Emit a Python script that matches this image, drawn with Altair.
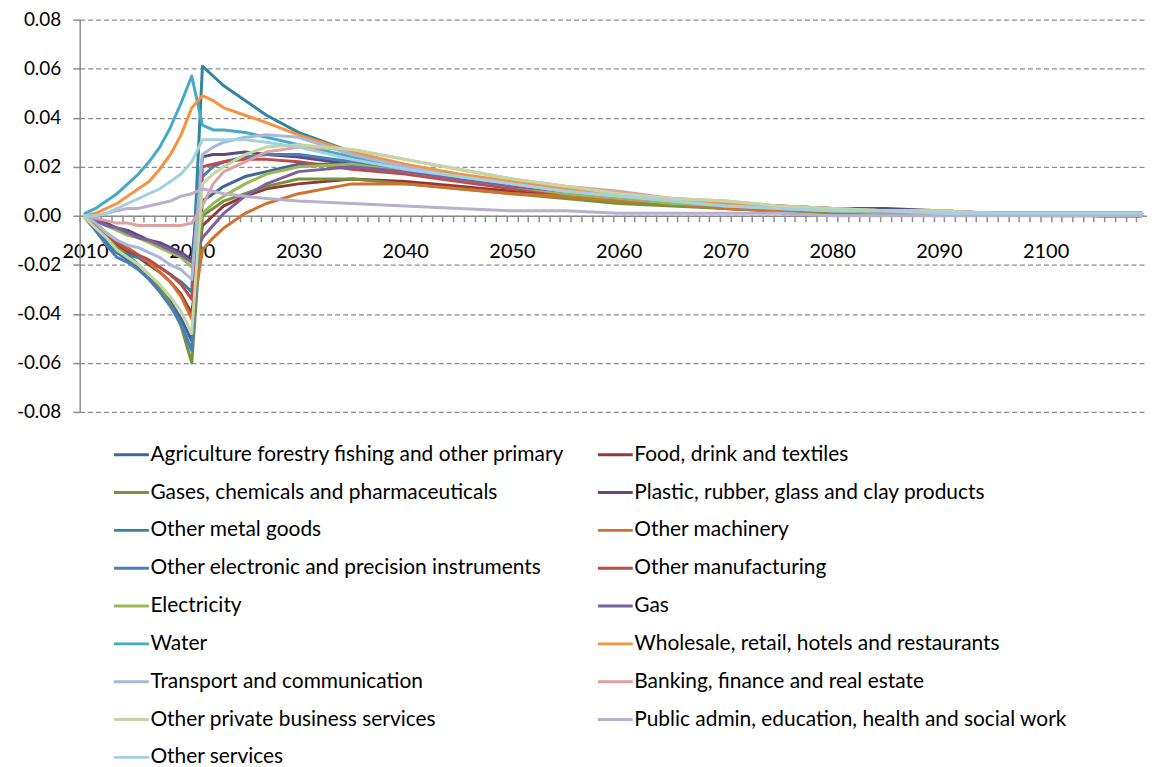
import altair as alt
import pandas as pd

YEARS = [2010, 2011, 2012, 2013, 2014, 2015, 2016, 2017, 2018, 2019, 2020,
         2021, 2022, 2023, 2025, 2027, 2030, 2035, 2040, 2045, 2050, 2055,
         2060, 2065, 2070, 2075, 2080, 2085, 2090, 2095, 2100, 2105, 2109]

NAMES = [
    "Agriculture forestry fishing and other primary",
    "Food, drink and textiles",
    "Gases, chemicals and pharmaceuticals",
    "Plastic, rubber, glass and clay products",
    "Other metal goods",
    "Other machinery",
    "Other electronic and precision instruments",
    "Other manufacturing",
    "Electricity",
    "Gas",
    "Water",
    "Wholesale, retail, hotels and restaurants",
    "Transport and communication",
    "Banking, finance and real estate",
    "Other private business services",
    "Public admin, education, health and social work",
    "Other services",
]

COLORS = ["#3C679A", "#953735", "#77933C", "#604A7B", "#31859C", "#D0722E",
          "#4A7EBB", "#BE4B48", "#98B954", "#7D60A0", "#46AAC5", "#F69240",
          "#A7B9DA", "#DAA2A1", "#C3D6A4", "#B9AFCF", "#A5D0DD"]

agriculture = [0.000, -0.005, -0.010, -0.015, -0.018, -0.021, -0.025, -0.030, -0.035, -0.042, -0.051,
               0.006, 0.009, 0.012, 0.016, 0.018, 0.021, 0.021, 0.018, 0.015, 0.012, 0.009,
               0.007, 0.005, 0.004, 0.003, 0.002, 0.002, 0.001, 0.001, 0.001, 0.001, 0.001]
food = [0.000, -0.004, -0.008, -0.012, -0.015, -0.017, -0.020, -0.023, -0.027, -0.032, -0.040,
        -0.004, 0.000, 0.004, 0.008, 0.011, 0.013, 0.015, 0.014, 0.012, 0.010, 0.008,
        0.006, 0.005, 0.003, 0.002, 0.002, 0.001, 0.001, 0.001, 0.001, 0.000, 0.000]
gases = [0.000, -0.004, -0.008, -0.013, -0.016, -0.020, -0.024, -0.029, -0.036, -0.045, -0.060,
         0.000, 0.003, 0.006, 0.009, 0.012, 0.015, 0.015, 0.013, 0.011, 0.009, 0.007,
         0.005, 0.004, 0.003, 0.002, 0.001, 0.001, 0.001, 0.001, 0.000, 0.000, 0.000]
plastic = [0.000, -0.002, -0.003, -0.005, -0.006, -0.008, -0.010, -0.011, -0.013, -0.015, -0.018,
           0.024, 0.025, 0.025, 0.026, 0.025, 0.024, 0.021, 0.019, 0.016, 0.013, 0.011,
           0.008, 0.006, 0.005, 0.004, 0.003, 0.003, 0.002, 0.001, 0.001, 0.001, 0.001]
metal = [0.000, -0.006, -0.011, -0.015, -0.016, -0.017, -0.019, -0.021, -0.024, -0.027, -0.031,
         0.061, 0.057, 0.053, 0.047, 0.041, 0.034, 0.026, 0.020, 0.016, 0.013, 0.010,
         0.008, 0.006, 0.004, 0.003, 0.002, 0.002, 0.001, 0.001, 0.001, 0.001, 0.001]
machinery = [0.000, -0.003, -0.007, -0.010, -0.013, -0.016, -0.019, -0.023, -0.027, -0.033, -0.042,
             -0.014, -0.009, -0.005, 0.001, 0.005, 0.009, 0.013, 0.013, 0.011, 0.009, 0.008,
             0.006, 0.005, 0.003, 0.002, 0.002, 0.001, 0.001, 0.001, 0.001, 0.000, 0.000]
electronic = [-0.001, -0.006, -0.012, -0.017, -0.019, -0.022, -0.026, -0.031, -0.037, -0.044, -0.055,
              0.016, 0.020, 0.022, 0.024, 0.025, 0.025, 0.022, 0.019, 0.016, 0.013, 0.010,
              0.008, 0.006, 0.004, 0.003, 0.002, 0.002, 0.001, 0.001, 0.001, 0.001, 0.001]
manufacturing = [0.000, -0.004, -0.008, -0.011, -0.014, -0.016, -0.018, -0.021, -0.024, -0.028, -0.034,
                 0.020, 0.021, 0.022, 0.023, 0.023, 0.022, 0.019, 0.017, 0.014, 0.011, 0.009,
                 0.007, 0.005, 0.004, 0.003, 0.002, 0.001, 0.001, 0.001, 0.001, 0.000, 0.000]
electricity = [0.000, -0.002, -0.004, -0.006, -0.008, -0.009, -0.011, -0.013, -0.015, -0.017, -0.021,
               0.001, 0.005, 0.008, 0.013, 0.017, 0.020, 0.021, 0.018, 0.015, 0.012, 0.009,
               0.007, 0.005, 0.004, 0.003, 0.002, 0.001, 0.001, 0.001, 0.001, 0.001, 0.001]
gas = [0.000, -0.002, -0.004, -0.005, -0.007, -0.009, -0.010, -0.012, -0.014, -0.016, -0.019,
       -0.009, -0.004, 0.001, 0.008, 0.013, 0.018, 0.020, 0.018, 0.015, 0.012, 0.010,
       0.008, 0.006, 0.005, 0.004, 0.003, 0.002, 0.002, 0.001, 0.001, 0.001, 0.001]
water = [0.001, 0.003, 0.006, 0.009, 0.013, 0.017, 0.022, 0.028, 0.036, 0.046, 0.057,
         0.037, 0.035, 0.035, 0.034, 0.032, 0.029, 0.024, 0.020, 0.016, 0.013, 0.010,
         0.008, 0.006, 0.004, 0.003, 0.002, 0.002, 0.001, 0.001, 0.001, 0.001, 0.001]
wholesale = [0.000, 0.001, 0.003, 0.005, 0.008, 0.011, 0.014, 0.019, 0.025, 0.033, 0.044,
             0.049, 0.047, 0.044, 0.041, 0.038, 0.033, 0.026, 0.021, 0.017, 0.014, 0.011,
             0.009, 0.007, 0.005, 0.004, 0.003, 0.002, 0.002, 0.001, 0.001, 0.001, 0.001]
transport = [0.000, -0.003, -0.007, -0.010, -0.012, -0.013, -0.015, -0.017, -0.020, -0.022, -0.026,
             0.025, 0.028, 0.030, 0.032, 0.033, 0.032, 0.025, 0.020, 0.016, 0.013, 0.010,
             0.008, 0.006, 0.004, 0.003, 0.002, 0.002, 0.001, 0.001, 0.001, 0.001, 0.001]
banking = [0.000, -0.001, -0.002, -0.003, -0.003, -0.004, -0.004, -0.004, -0.004, -0.004, -0.003,
           0.004, 0.013, 0.018, 0.022, 0.026, 0.028, 0.027, 0.023, 0.019, 0.015, 0.012,
           0.010, 0.007, 0.006, 0.004, 0.003, 0.002, 0.002, 0.001, 0.001, 0.001, 0.001]
private_business = [-0.001, -0.005, -0.009, -0.014, -0.017, -0.020, -0.024, -0.028, -0.033, -0.039, -0.048,
                    0.013, 0.017, 0.020, 0.025, 0.028, 0.029, 0.027, 0.023, 0.019, 0.015, 0.012,
                    0.009, 0.007, 0.006, 0.004, 0.003, 0.002, 0.002, 0.001, 0.001, 0.001, 0.001]
public_admin = [0.000, 0.000, 0.001, 0.002, 0.003, 0.003, 0.004, 0.005, 0.006, 0.008, 0.009,
                0.011, 0.010, 0.009, 0.008, 0.007, 0.006, 0.005, 0.004, 0.003, 0.002, 0.002,
                0.001, 0.001, 0.001, 0.001, 0.000, 0.000, 0.000, 0.000, 0.000, 0.000, 0.000]
other_services = [0.000, 0.000, 0.001, 0.003, 0.005, 0.007, 0.009, 0.011, 0.014, 0.017, 0.022,
                  0.031, 0.031, 0.031, 0.031, 0.030, 0.028, 0.023, 0.019, 0.016, 0.013, 0.010,
                  0.008, 0.006, 0.004, 0.003, 0.002, 0.002, 0.001, 0.001, 0.001, 0.001, 0.001]

SERIES = [agriculture, food, gases, plastic, metal, machinery, electronic, manufacturing,
          electricity, gas, water, wholesale, transport, banking, private_business,
          public_admin, other_services]

rows = []
for idx, (name, vals) in enumerate(zip(NAMES, SERIES)):
    for yr, v in zip(YEARS, vals):
        rows.append({"series": name, "idx": idx, "year": yr, "value": v})
df = pd.DataFrame(rows)

GRAY = "#8c8c8c"
FONT = "Lato"
PX_PER_YEAR = 1072 / 100.0

minus_fix = "replace(format(datum.value, '.2f'), '\u2212', '-')"

chart = alt.Chart(df).mark_line(strokeWidth=3, strokeJoin="round", strokeCap="round").encode(
    x=alt.X("year:Q",
            scale=alt.Scale(domain=[2009.5, 2109.5], nice=False, zero=False),
            axis=alt.Axis(values=list(range(2010, 2110)),
                          tickOffset=-PX_PER_YEAR / 2, labelOffset=PX_PER_YEAR / 2,
                          labelExpr="datum.value % 10 == 0 ? toString(datum.value) : ''",
                          labelOverlap=False, labelFlush=False, labelBound=False,
                          offset=-197, grid=False, tickSize=6, tickWidth=1.5,
                          domainColor=GRAY, tickColor=GRAY, domainWidth=1.5,
                          labelFont=FONT, labelFontSize=20, labelColor="black",
                          labelPadding=20, labelBaseline="top", title=None)),
    y=alt.Y("value:Q",
            scale=alt.Scale(domain=[-0.08, 0.08], nice=False, zero=False),
            axis=alt.Axis(values=[-0.08, -0.06, -0.04, -0.02, 0.0, 0.02, 0.04, 0.06, 0.08],
                          labelExpr=minus_fix, grid=True, gridDash=[5, 3],
                          gridColor=GRAY, gridWidth=1.2, tickSize=7, tickWidth=1.5,
                          tickColor=GRAY, domainColor=GRAY, domainWidth=1.5,
                          labelFont=FONT, labelFontSize=19, labelColor="black",
                          labelPadding=12, title=None)),
    color=alt.Color("series:N",
                    scale=alt.Scale(domain=NAMES, range=COLORS),
                    sort=NAMES,
                    legend=alt.Legend(orient="none", legendX=33, legendY=418,
                                      direction="horizontal",
                                      columns=2, symbolType="stroke",
                                      symbolStrokeWidth=3, symbolSize=1225,
                                      labelFont=FONT, labelFontSize=21,
                                      labelColor="black", labelLimit=700,
                                      labelOffset=0, rowPadding=9,
                                      columnPadding=27, title=None)),
    order=alt.Order("idx:Q"),
).properties(
    width=1072, height=394,
    padding={"left": 72, "top": 10, "right": 0, "bottom": 356},
    autosize=alt.AutoSizeParams(type="none"),
).configure_view(stroke=None)

chart.save("out.html", embed_options={"renderer": "svg", "actions": False})
